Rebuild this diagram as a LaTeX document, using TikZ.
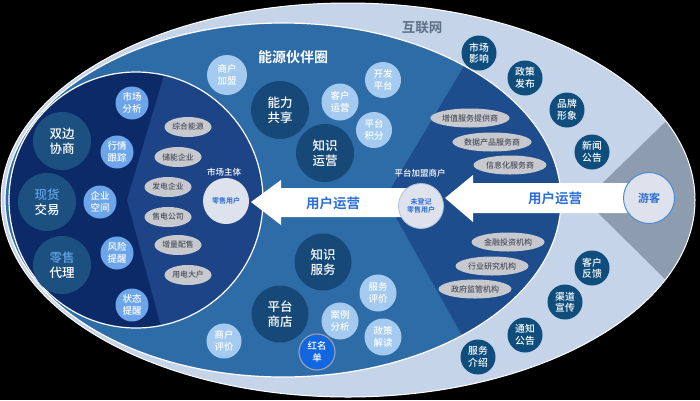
\documentclass[tikz,border=0pt]{standalone}
\usepackage{fontspec}
\setmainfont{Noto Sans CJK SC}[BoldFont={Noto Sans CJK SC Bold}]
\newfontfamily\medfont{Noto Sans CJK SC Medium}
\usetikzlibrary{shapes.geometric,calc}
\pgfdeclarelayer{bg}
\pgfdeclarelayer{mid}
\pgfsetlayers{bg,mid,main}
\definecolor{outerc}{RGB}{198,212,234}
\definecolor{grayw}{RGB}{142,156,176}
\definecolor{midc}{RGB}{46,108,168}
\definecolor{midwedge}{RGB}{29,77,141}
\definecolor{innerc}{RGB}{12,42,104}
\definecolor{innerwedge}{RGB}{28,68,134}
\definecolor{bigin}{RGB}{27,80,128}
\definecolor{bigmid}{RGB}{22,73,120}
\definecolor{ringfill}{RGB}{15,77,124}
\definecolor{smin}{RGB}{109,165,234}
\definecolor{smmid}{RGB}{164,202,239}
\definecolor{pillc}{RGB}{200,201,207}
\definecolor{pilltext}{RGB}{75,80,92}
\definecolor{arrowtext}{RGB}{46,111,214}
\definecolor{lighttxt}{RGB}{100,162,230}
\definecolor{redlist}{RGB}{18,102,224}
\definecolor{titlegray}{RGB}{95,111,134}
\definecolor{userfill}{RGB}{221,226,236}
\begin{document}
\begin{tikzpicture}[x=1pt,y=-1pt,
  bigcirc/.style={circle,fill=#1,minimum size=58,inner sep=0,align=center,text=white,font=\medfont\fontsize{12.5}{15}\selectfont},
  smallcirc/.style={circle,fill=#1,minimum size=35,inner sep=0,align=center,text=white,font=\medfont\fontsize{9.5}{11.5}\selectfont},
  ringcirc/.style={circle,fill=ringfill,minimum size=35,inner sep=0,align=center,text=white,font=\medfont\fontsize{9.8}{11.5}\selectfont},
  pillin/.style={ellipse,fill=pillc,minimum width=47,minimum height=20,inner sep=0,text=pilltext,font=\medfont\fontsize{7.8}{9}\selectfont},
  pillout/.style={ellipse,fill=pillc,minimum width=73,minimum height=19,inner sep=0,text=pilltext,font=\medfont\fontsize{8}{9}\selectfont},
  lbl/.style={text=white,font=\medfont\fontsize{8.5}{10}\selectfont,inner sep=0},
  arrowlbl/.style={text=arrowtext,font=\bfseries\fontsize{13.5}{15}\selectfont,inner sep=0},
  whitearrow/.style={fill=white}
]
\useasboundingbox (0,0) rectangle (700,400);
\begin{pgfonlayer}{bg}
  \fill[black] (0,0) rectangle (700,400);
  % outer ellipse
  \fill[outerc] (348,200) ellipse [x radius=347,y radius=197];
  \begin{scope}
    \clip (348,200) ellipse [x radius=347,y radius=197];
    \fill[grayw] (585,200) -- (760,30) -- (760,373) -- cycle;
  \end{scope}
  \draw[white,line width=1] (348,200) ellipse [x radius=347,y radius=197];
  % middle ellipse
  \fill[midc] (283,200) ellipse [x radius=278,y radius=177];
  \begin{scope}
    \clip (283,200) ellipse [x radius=278,y radius=177];
    \fill[midwedge] (385,198) -- (500,6) -- (620,6) -- (620,394) -- (495,394) -- cycle;
  \end{scope}
  \draw[white,line width=1.2] (283,200) ellipse [x radius=278,y radius=177];
  % inner circle
  \fill[innerc] (136,200) ellipse [x radius=127,y radius=128];
  \begin{scope}
    \clip (136,200) ellipse [x radius=127,y radius=128];
    \fill[innerwedge] (127,200) -- (170,55) -- (290,55) -- (290,345) -- (166,345) -- cycle;
  \end{scope}
  \draw[white,line width=1.2] (136,200) ellipse [x radius=127,y radius=128];
\end{pgfonlayer}

% titles
\node[text=white,font=\bfseries\fontsize{14}{16}\selectfont,inner sep=0] (t1) at (293,57) {能源伙伴圈};
\node[text=titlegray,font=\bfseries\fontsize{13.5}{16}\selectfont,inner sep=0] (t2) at (422,28) {互联网};

% inner big circles
\node[bigcirc=bigin] (sbxs) at (62,141) {双边\\协商};
\node[bigcirc=bigin] (xhjy) at (47,202) {{\color{lighttxt}现货}\\交易};
\node[bigcirc=bigin] (lsdl) at (62,265) {{\color{lighttxt}零售}\\代理};
% inner small circles
\node[smallcirc=smin,minimum size=33] (scfx) at (132,103) {市场\\分析};
\node[smallcirc=smin,minimum size=33] (hqgz) at (117,152) {行情\\跟踪};
\node[smallcirc=smin,minimum size=33] (qykj) at (100,202) {企业\\空间};
\node[smallcirc=smin,minimum size=33] (fxtx) at (117,253) {风险\\提醒};
\node[smallcirc=smin,minimum size=33] (ztx) at (132,305) {状态\\提醒};
% inner pills
\node[pillin] (p1) at (188,127) {综合能源};
\node[pillin] (p2) at (178,157) {储能企业};
\node[pillin] (p3) at (168,187) {发电企业};
\node[pillin] (p4) at (168,217) {售电公司};
\node[pillin] (p5) at (178,245) {增量配售};
\node[pillin] (p6) at (188,275) {用电大户};
\node[lbl] (scz) at (224,172) {市场主体};
\node[circle,fill=userfill,minimum size=46,inner sep=0,text=arrowtext,font=\bfseries\fontsize{7}{8.5}\selectfont] (lsyh) at (226,201) {零售用户};

% middle circles
\node[smallcirc=smmid,minimum size=40] (shjm) at (227,75) {商户\\加盟};
\node[bigcirc=bigmid] (nlgx) at (280,110) {能力\\共享};
\node[bigcirc=bigmid] (zsyy) at (325,153) {知识\\运营};
\node[smallcirc=smmid,minimum size=37] (khyy) at (340,102) {客户\\运营};
\node[smallcirc=smmid,minimum size=36] (kfpt) at (383,80) {开发\\平台};
\node[smallcirc=smmid,minimum size=36] (ptjf) at (374,130) {平台\\积分};
\node[bigcirc=bigmid,minimum size=57] (zsfw) at (323,262) {知识\\服务};
\node[bigcirc=bigmid,minimum size=57] (ptsd) at (280,314) {平台\\商店};
\node[smallcirc=smmid] (shpj) at (224,341) {商户\\评价};
\node[smallcirc=smmid,minimum size=37] (alfx) at (340,321) {案例\\分析};
\node[smallcirc=redlist,minimum size=36,draw={rgb,255:red,150;green,160;blue,175},line width=1.2] (hmd) at (317,352) {红名\\单};
\node[smallcirc=smmid,minimum size=37] (fwpj) at (378,293) {服务\\评价};
\node[smallcirc=smmid,minimum size=37] (zcjd) at (383,337) {政策\\解读};

% right wedge pills
\node[pillout] (q1) at (470,118) {增值服务提供商};
\node[pillout] (q2) at (492,142) {数据产品服务商};
\node[pillout] (q3) at (510,165) {信息化服务商};
\node[pillout] (q4) at (508,242) {金融投资机构};
\node[pillout] (q5) at (492,266) {行业研究机构};
\node[pillout] (q6) at (475,289) {政府监管机构};
\node[lbl] (ptjmsh) at (420,173) {平台加盟商户};
\node[circle,fill=userfill,draw={rgb,255:red,180;green,192;blue,212},line width=0.8,minimum size=45,inner sep=0,align=center,text=arrowtext,font=\bfseries\fontsize{7}{8.5}\selectfont] (wdj) at (421,206) {未登记\\零售用户};

% outer ring circles
\node[ringcirc] (r1) at (479,53) {市场\\影响};
\node[ringcirc] (r2) at (525,78) {政策\\发布};
\node[ringcirc] (r3) at (567,110) {品牌\\形象};
\node[ringcirc] (r4) at (592,152) {新闻\\公告};
\node[ringcirc] (r5) at (592,268) {客户\\反馈};
\node[ringcirc] (r6) at (565,302) {渠道\\宣传};
\node[ringcirc] (r7) at (525,335) {通知\\公告};
\node[ringcirc] (r8) at (478,357) {服务\\介绍};

% visitor
\node[circle,fill=userfill,draw={rgb,255:red,74;green,138;blue,216},line width=1,minimum size=51,inner sep=0,text=arrowtext,font=\bfseries\fontsize{11}{13}\selectfont] (yk) at (649,198) {游客};

% arrows
\coordinate (rtip) at (445,198);
\coordinate (ltip) at (251,202);
\begin{pgfonlayer}{mid}
  \fill[whitearrow] (rtip) -- ++(28,-23) -- ++(0,8) -- ($(yk.center)+(0,-15)$) -- ($(yk.center)+(0,15)$) -- ($(rtip)+(28,15)$) -- ++(0,9) -- cycle;
  \fill[whitearrow] (ltip) -- ++(30,-22) -- ++(0,8) -- ($(wdj.center)+(0,-18)$) -- ($(wdj.center)+(0,11)$) -- ($(ltip)+(30,15)$) -- ++(0,8) -- cycle;
\end{pgfonlayer}
\node[arrowlbl] (a1) at (555,198) {用户运营};
\node[arrowlbl] (a2) at (333,203) {用户运营};
\end{tikzpicture}
\end{document}
